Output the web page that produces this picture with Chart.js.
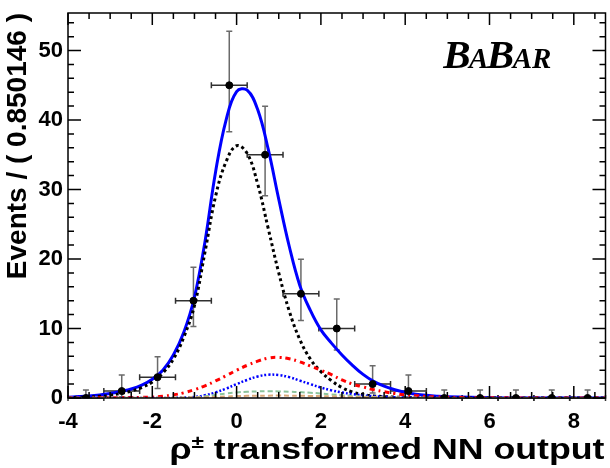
<!DOCTYPE html>
<html>
<head>
<meta charset="utf-8">
<script src="https://cdn.jsdelivr.net/npm/chart.js@4.4.1/dist/chart.umd.min.js"></script>
<style>
  html, body { margin: 0; padding: 0; background: #fff; }
  #wrap { width: 610px; height: 468px; }
</style>
</head>
<body>
<div id="wrap"><canvas id="nnChart" width="610" height="468"></canvas></div>
<script>
// 15 bins of width 0.850146 starting at -4
const binCenters = [-3.575, -2.725, -1.875, -1.024, -0.174, 0.676, 1.526, 2.376, 3.227, 4.077, 4.927, 5.777, 6.627, 7.477, 8.327];
const binHalfWidth = 0.425;
const events = [0, 1, 3, 14, 45, 35, 15, 10, 2, 1, 0, 0, 0, 0, 0];
// asymmetric poisson errors
const errLow  = [0, 0.83, 1.63, 3.70, 6.68, 5.90, 3.84, 3.11, 1.29, 0.83, 0, 0, 0, 0, 0];
const errHigh = [1.15, 2.30, 2.92, 4.83, 7.76, 6.97, 4.97, 4.26, 2.64, 2.30, 1.15, 1.15, 1.15, 1.15, 1.15];

// fit curves sampled along x
const curveX = [-4, -3.75, -3.5, -3.25, -3, -2.75, -2.5, -2.25, -2, -1.75, -1.5, -1.25, -1, -0.75, -0.5, -0.25,
  0, 0.25, 0.5, 0.75, 1, 1.25, 1.5, 1.75, 2, 2.25, 2.5, 2.75, 3, 3.25, 3.5, 3.75, 4, 4.25, 4.5, 4.75, 5, 6, 7, 8, 8.75];
const totalFit = [0.12, 0.2, 0.3, 0.45, 0.65, 0.95, 1.3, 1.85, 2.7, 4.0, 6.2, 9.5, 14.5, 22.5, 32.5, 40,
  44.1, 44.3, 41.5, 35.8, 28.6, 21.8, 16.2, 12.6, 9.8, 7.9, 6.2, 4.7, 3.4, 2.4, 1.7, 1.2, 0.8, 0.55, 0.38, 0.26, 0.18, 0.04, 0.01, 0, 0];
const signalFit = [0.05, 0.1, 0.15, 0.25, 0.4, 0.65, 1.0, 1.5, 2.3, 3.6, 5.6, 8.8, 13.3, 21, 29, 34,
  36.3, 35.2, 30.8, 24.4, 18, 12.5, 8.4, 5.6, 3.8, 2.5, 1.5, 0.85, 0.5, 0.3, 0.2, 0.13, 0.09, 0.06, 0.04, 0.03, 0.02, 0, 0, 0, 0];
const bkgRed = [0.01, 0.01, 0.02, 0.03, 0.04, 0.05, 0.07, 0.09, 0.12, 0.25, 0.45, 0.75, 1.2, 1.75, 2.45, 3.2,
  4.0, 4.7, 5.3, 5.75, 5.85, 5.65, 5.2, 4.6, 4.0, 3.35, 2.6, 2.0, 1.6, 1.2, 0.9, 0.65, 0.45, 0.32, 0.22, 0.15, 0.1, 0.03, 0.01, 0, 0];
const bkgBlue = [0, 0, 0, 0, 0, 0, 0, 0, 0, 0, 0.02, 0.07, 0.15, 0.4, 0.8, 1.35,
  2.0, 2.6, 3.1, 3.35, 3.3, 3.0, 2.5, 2.0, 1.5, 1.1, 0.8, 0.55, 0.38, 0.25, 0.16, 0.1, 0.07, 0.05, 0.03, 0.02, 0.01, 0, 0, 0, 0];
const bkgGreen = [0.01, 0.01, 0.01, 0.01, 0.01, 0.01, 0.01, 0.01, 0.01, 0.01, 0.01, 0.05, 0.1, 0.25, 0.45, 0.65,
  0.8, 0.9, 0.95, 0.97, 0.95, 0.9, 0.85, 0.75, 0.65, 0.52, 0.4, 0.3, 0.2, 0.14, 0.1, 0.07, 0.05, 0.03, 0.02, 0.01, 0, 0, 0, 0, 0];
const bkgTan = [0.02, 0.02, 0.02, 0.03, 0.03, 0.03, 0.04, 0.04, 0.05, 0.05, 0.06, 0.08, 0.1, 0.12, 0.15, 0.22,
  0.28, 0.31, 0.33, 0.34, 0.35, 0.34, 0.32, 0.3, 0.27, 0.24, 0.2, 0.16, 0.13, 0.1, 0.08, 0.06, 0.05, 0.04, 0.03, 0.02, 0.01, 0, 0, 0, 0];

const xMajorTicks = [-4, -2, 0, 2, 4, 6, 8];
const yMajorTicks = [0, 10, 20, 30, 40, 50];
const xMinorStep = 0.5;
const yMinorStep = 2;

const FONT = "'Liberation Sans', Arial, Helvetica, sans-serif";

function curve(values) {
  return curveX.map((x, i) => ({ x: x, y: values[i] }));
}

function fitLine(values, color, width, dash) {
  return {
    type: "line",
    data: curve(values),
    borderColor: color,
    borderWidth: width,
    borderDash: dash,
    pointRadius: 0,
    tension: 0.4,
    fill: false
  };
}

// error bars, frame, inward ticks, labels
const rootStyle = {
  id: "rootStyle",
  beforeDatasetsDraw(chart) {
    const { ctx, scales: { x, y } } = chart;
    ctx.save();
    ctx.lineWidth = 1.5;
    binCenters.forEach((c, i) => {
      const px = x.getPixelForValue(c);
      const py = y.getPixelForValue(events[i]);
      const lo = y.getPixelForValue(events[i] - errLow[i]);
      const hi = y.getPixelForValue(events[i] + errHigh[i]);
      const l = x.getPixelForValue(c - binHalfWidth);
      const r = x.getPixelForValue(c + binHalfWidth);
      ctx.strokeStyle = "#6a6a6a";
      ctx.beginPath();
      ctx.moveTo(px, lo); ctx.lineTo(px, hi);
      ctx.moveTo(px - 3, lo); ctx.lineTo(px + 3, lo);
      ctx.moveTo(px - 3, hi); ctx.lineTo(px + 3, hi);
      ctx.stroke();
      ctx.strokeStyle = "#303030";
      ctx.beginPath();
      ctx.moveTo(l, py); ctx.lineTo(r, py);
      ctx.moveTo(l, py - 3); ctx.lineTo(l, py + 3);
      ctx.moveTo(r, py - 3); ctx.lineTo(r, py + 3);
      ctx.stroke();
    });
    ctx.restore();
  },
  afterDraw(chart) {
    const { ctx, chartArea: a, scales: { x, y } } = chart;
    ctx.save();
    ctx.strokeStyle = "#000";
    ctx.lineWidth = 1.5;
    ctx.strokeRect(a.left, a.top, a.right - a.left, a.bottom - a.top);

    ctx.beginPath();
    for (let v = x.min; v <= x.max; v += xMinorStep) {
      const px = x.getPixelForValue(v);
      const len = xMajorTicks.includes(v) ? 12 : 6;
      ctx.moveTo(px, a.bottom); ctx.lineTo(px, a.bottom - len);
      ctx.moveTo(px, a.top); ctx.lineTo(px, a.top + len);
    }
    for (let v = y.min; v <= y.max; v += yMinorStep) {
      const py = y.getPixelForValue(v);
      const len = yMajorTicks.includes(v) ? 13 : 6;
      ctx.moveTo(a.left, py); ctx.lineTo(a.left + len, py);
      ctx.moveTo(a.right, py); ctx.lineTo(a.right - len, py);
    }
    ctx.stroke();

    // experiment logo
    let lx = x.getPixelForValue(4.9);
    const ly = y.getPixelForValue(47.5);
    ctx.fillStyle = "#000";
    ctx.textBaseline = "alphabetic";
    ctx.textAlign = "left";
    [["B", 41], ["A", 29], ["B", 41], ["AR", 29]].forEach(([s, size]) => {
      ctx.font = "italic bold " + size + "px 'Liberation Serif', 'Times New Roman', serif";
      ctx.fillText(s, lx, ly);
      lx += ctx.measureText(s).width - 1.5;
    });

    // x axis title with superscript, drawn a little wide
    const stretch = 1.19;
    const main = " transformed NN output";
    const big = "bold 30px " + FONT;
    const sup = "bold 19px " + FONT;
    ctx.font = big;
    const wMain = ctx.measureText(main).width;
    const wRho = ctx.measureText("\u03c1").width;
    ctx.font = sup;
    const wPm = ctx.measureText("\u00b1").width;
    const base = 459;
    ctx.translate(a.right - 1, 0);
    ctx.scale(stretch, 1);
    let tx = -(wMain + wPm + wRho);
    ctx.font = big;
    ctx.fillText("\u03c1", tx, base);
    tx += wRho;
    ctx.font = sup;
    ctx.fillText("\u00b1", tx, base - 11);
    tx += wPm;
    ctx.font = big;
    ctx.fillText(main, tx, base);
    ctx.restore();
  }
};

new Chart(document.getElementById("nnChart"), {
  type: "scatter",
  data: {
    datasets: [
      {
        data: binCenters.map((c, i) => ({ x: c, y: events[i] })),
        backgroundColor: "#000",
        borderColor: "#000",
        pointRadius: 3.5,
        pointHoverRadius: 3.5
      },
      fitLine(bkgTan, "#d9a878", 2, [5, 3]),
      fitLine(bkgGreen, "#8cc49c", 2, [5, 3]),
      fitLine(bkgBlue, "#0000ff", 2.5, [2, 2]),
      fitLine(bkgRed, "#ff0000", 3, [5, 4, 2, 4]),
      fitLine(signalFit, "#000", 3, [3, 3]),
      fitLine(totalFit, "#0000ff", 3, [])
    ]
  },
  options: {
    responsive: false,
    animation: false,
    devicePixelRatio: 1,
    layout: { padding: { top: 13, right: 2, left: 0, bottom: 0 } },
    plugins: { legend: { display: false }, tooltip: { enabled: false } },
    scales: {
      x: {
        type: "linear",
        min: -4,
        max: 8.752,
        grid: { display: false, drawTicks: false },
        border: { display: false },
        ticks: {
          stepSize: 2,
          includeBounds: false,
          padding: 11,
          color: "#000",
          font: { family: FONT, weight: "bold", size: 22 }
        },
        afterFit(s) {
          s.height = 70;
          s.paddingLeft = 0; s.paddingRight = 0;
        }
      },
      y: {
        min: 0,
        max: 55.4,
        grid: { display: false, drawTicks: false },
        border: { display: false },
        ticks: {
          stepSize: 10,
          includeBounds: false,
          padding: 5,
          color: "#000",
          font: { family: FONT, weight: "bold", size: 22 }
        },
        title: {
          display: true,
          text: "Events / ( 0.850146 )",
          align: "end",
          color: "#000",
          padding: { top: 1, bottom: 0 },
          font: { family: FONT, weight: "bold", size: 28 }
        },
        afterFit(s) {
          s.width = 68;
          s.paddingTop = 0; s.paddingBottom = 0;
        }
      }
    }
  },
  plugins: [rootStyle]
});
</script>
</body>
</html>
